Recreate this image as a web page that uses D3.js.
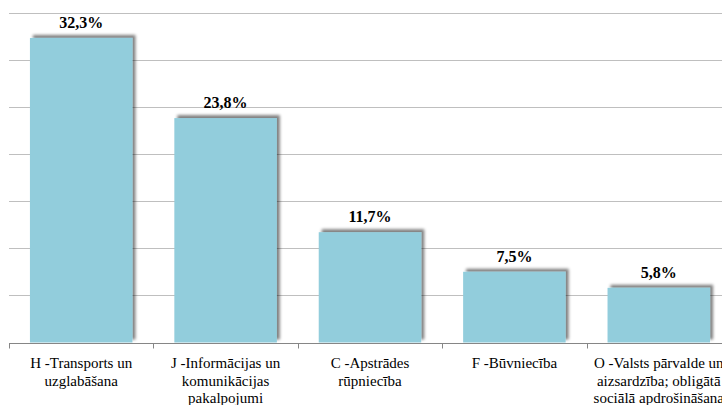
<!DOCTYPE html>
<head>
    <meta charset="utf-8">
    <script type="text/javascript" src="https://d3js.org/d3.v7.min.js"></script>
    <style>
        body { margin: 0; background: #fff; }
        .chart .bar { fill: #92cddc; }
        .chart .grid line { stroke: #bfbfbf; }
    </style>
</head>

<svg class="chart"></svg>

<script>

    var categories = [
        "H -Transports un\nuzglabāšana",
        "J -Informācijas un\nkomunikācijas\npakalpojumi",
        "C -Apstrādes\nrūpniecība",
        "F -Būvniecība",
        "O -Valsts pārvalde un\naizsardzība; obligātā\nsociālā apdrošināšana"
    ];
    var values = [32.3, 23.8, 11.7, 7.5, 5.8];
    var yTicks = [0, 5, 10, 15, 20, 25, 30, 35];

    var width = 722,
        height = 405,
        padLeft = 9,
        plotTop = 12.5,
        plotBottom = 342.5,
        serif = "'Liberation Serif', 'Times New Roman', serif";

    var chart = d3.select(".chart")
        .attr("width", width)
        .attr("height", height);

    // soft gray shadow up and to the right of each bar
    var f = chart.append("defs").append("filter")
        .attr("id", "shadow")
        .attr("x", "-20%").attr("y", "-20%")
        .attr("width", "140%").attr("height", "140%");
    f.append("feGaussianBlur").attr("in", "SourceAlpha").attr("stdDeviation", 1.6);
    f.append("feOffset").attr("dx", 3).attr("dy", -3).attr("result", "off");
    f.append("feComponentTransfer").append("feFuncA").attr("type", "linear").attr("slope", 0.5);
    var m = f.append("feMerge");
    m.append("feMergeNode");
    m.append("feMergeNode").attr("in", "SourceGraphic");

    var x = d3.scaleBand()
        .domain(categories)
        .range([padLeft, padLeft + 5 * 144.4])
        .paddingInner(0.29)
        .paddingOuter(0.145);

    var y = d3.scaleLinear()
        .domain([0, 35])
        .range([plotBottom, plotTop]);

    // gridlines
    chart.append("g").attr("class", "grid")
        .selectAll("line")
        .data(yTicks.slice(1))
        .enter().append("line")
        .attr("x1", padLeft).attr("x2", width + 20)
        .attr("y1", function(d) { return Math.round(y(d)) + 0.5; })
        .attr("y2", function(d) { return Math.round(y(d)) + 0.5; });

    var bar = chart.selectAll(".b")
        .data(values)
        .enter().append("g")
        .attr("class", "b");

    bar.append("rect")
        .attr("class", "bar")
        .attr("filter", "url(#shadow)")
        .attr("x", function(d, i) { return x(categories[i]); })
        .attr("y", function(d) { return y(d); })
        .attr("width", x.bandwidth())
        .attr("height", function(d) { return plotBottom - y(d); });

    bar.append("text")
        .attr("font-family", serif)
        .attr("font-weight", "bold")
        .attr("font-size", 16)
        .attr("text-anchor", "middle")
        .attr("x", function(d, i) { return x(categories[i]) + x.bandwidth() / 2; })
        .attr("y", function(d) { return y(d) - 10; })
        .text(function(d) { return d.toFixed(1).replace(".", ",") + "%"; });

    // x axis
    var axis = chart.append("g")
        .attr("transform", "translate(0," + (Math.round(plotBottom) + 0.5) + ")")
        .call(d3.axisBottom(x).tickSize(0).tickFormat(""));
    axis.select(".domain").attr("stroke", "#868686").attr("d", "M" + padLeft + ",0H" + (width + 20));

    var bounds = d3.range(categories.length + 1).map(function(i) { return padLeft + i * x.step(); });
    axis.selectAll(".bt")
        .data(bounds)
        .enter().append("line")
        .attr("stroke", "#868686")
        .attr("x1", function(d) { return Math.round(d) + 0.5; })
        .attr("x2", function(d) { return Math.round(d) + 0.5; })
        .attr("y1", 0).attr("y2", 5);

    var lbl = chart.selectAll(".cat")
        .data(categories)
        .enter().append("text")
        .attr("class", "cat")
        .attr("font-family", serif)
        .attr("font-size", 15)
        .attr("text-anchor", "middle")
        .attr("x", function(d) { return x(d) + x.bandwidth() / 2; })
        .attr("y", 368);

    lbl.selectAll("tspan")
        .data(function(d) { return d.split("\n").map(function(s) { return { s: s, c: d }; }); })
        .enter().append("tspan")
        .attr("x", function(d) { return x(d.c) + x.bandwidth() / 2; })
        .attr("dy", function(d, i) { return i ? 17.5 : 0; })
        .text(function(d) { return d.s; });

</script>
